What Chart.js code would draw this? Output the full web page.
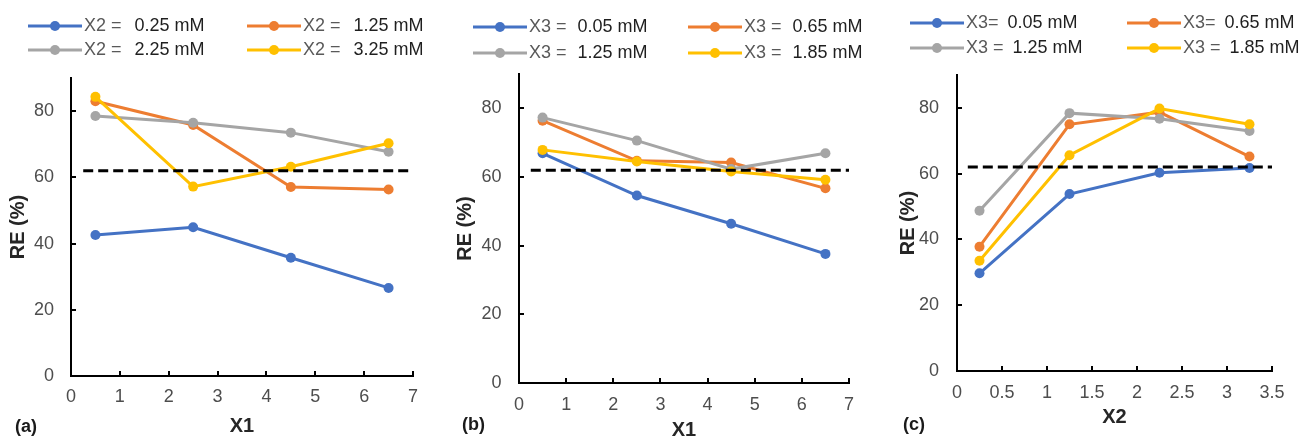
<!DOCTYPE html>
<html>
<head>
<meta charset="utf-8">
<script src="https://cdn.jsdelivr.net/npm/chart.js@4.4.1/dist/chart.umd.min.js"></script>
<style>
    html, body { margin: 0; padding: 0; background: #fff; }
    body { width: 1301px; height: 436px; position: relative; overflow: hidden; }
    canvas { position: absolute; top: 0; }
</style>
</head>
<body>
<canvas id="chartA" width="440" height="436" style="left:0"></canvas>
<canvas id="chartB" width="430" height="436" style="left:440px"></canvas>
<canvas id="chartC" width="431" height="436" style="left:870px"></canvas>
<script>
// ── (a) RE vs X1, one line per X2 ─────────────────────────────
const x1Vals = [0.5, 2.5, 4.5, 6.5];
const labelsA = ['X2 =  0.25 mM', 'X2 =  1.25 mM', 'X2 =  2.25 mM', 'X2 =  3.25 mM'];
const reA_x2_025 = [42.6, 44.9, 35.7, 26.6];
const reA_x2_125 = [83.0, 75.8, 57.1, 56.3];
const reA_x2_225 = [78.5, 76.5, 73.5, 67.7];
const reA_x2_325 = [84.3, 57.2, 63.2, 70.3];

// ── (b) RE vs X1, one line per X3 ─────────────────────────────
const labelsB = ['X3 =  0.05 mM', 'X3 =  0.65 mM', 'X3 =  1.25 mM', 'X3 =  1.85 mM'];
const reB_x3_005 = [66.9, 54.6, 46.4, 37.6];
const reB_x3_065 = [76.4, 64.7, 64.2, 56.7];
const reB_x3_125 = [77.3, 70.6, 62.3, 66.9];
const reB_x3_185 = [67.9, 64.5, 61.6, 59.2];

// ── (c) RE vs X2, one line per X3 ─────────────────────────────
const x2Vals = [0.25, 1.25, 2.25, 3.25];
const labelsC = ['X3= 0.05 mM', 'X3= 0.65 mM', 'X3 = 1.25 mM', 'X3 = 1.85 mM'];
const reC_x3_005 = [29.7, 53.8, 60.3, 61.7];
const reC_x3_065 = [37.8, 75.0, 78.7, 65.2];
const reC_x3_125 = [48.7, 78.4, 76.7, 73.0];
const reC_x3_185 = [33.5, 65.6, 79.8, 75.0];

// dashed reference level
const refRE = 62;
const refSpanX1 = [0.25, 7];
const refSpanX2 = [0.12, 3.5];

const yTicks = [0, 20, 40, 60, 80];

const COLORS = ['#4472C4', '#ED7D31', '#A5A5A5', '#FFC000'];
const tickFont = { family: "'Liberation Sans Narrow', 'Liberation Sans', Arial, sans-serif", size: 18 };
const titleFont = { family: "'Liberation Sans', Arial, sans-serif", size: 20, weight: 'bold', lineHeight: 1 };

// legend (2x2) + panel tag, drawn on the canvas
const panelDecor = {
    id: 'panelDecor',
    afterDraw(chart, args, o) {
        const ctx = chart.ctx;
        ctx.save();
        ctx.textBaseline = 'middle';
        chart.data.datasets.slice(0, 4).forEach((ds, i) => {
            const col = o.cols[i % 2], y = o.rows[Math.floor(i / 2)];
            ctx.strokeStyle = ds.borderColor;
            ctx.lineWidth = 3;
            ctx.beginPath();
            ctx.moveTo(col, y);
            ctx.lineTo(col + 54, y);
            ctx.stroke();
            ctx.fillStyle = ds.borderColor;
            ctx.beginPath();
            ctx.arc(col + 27, y, 5, 0, Math.PI * 2);
            ctx.fill();

            const parts = ds.label.split('=');
            const prefix = parts[0] + '=';
            ctx.font = "18px 'Liberation Sans', Arial, sans-serif";
            ctx.textAlign = 'left';
            ctx.fillStyle = '#595959';
            ctx.fillText(prefix, col + 56, y);
            const w = ctx.measureText(prefix).width;
            ctx.fillStyle = '#1f1f1f';
            ctx.fillText(parts[1].trim(), col + 56 + w + o.gap, y);
        });
        ctx.font = "bold 18px 'Liberation Sans', Arial, sans-serif";
        ctx.fillStyle = '#1a1a1a';
        ctx.textAlign = 'left';
        ctx.fillText(o.tag.text, o.tag.x, o.tag.y);
        ctx.restore();
    }
};

function seriesSets(xs, labels, series, refSpan) {
    const sets = series.map((ys, i) => ({
        label: labels[i],
        data: xs.map((x, j) => ({ x: x, y: ys[j] })),
        borderColor: COLORS[i],
        backgroundColor: COLORS[i],
        borderWidth: 3,
        pointRadius: 5,
        pointHoverRadius: 5,
        pointBorderWidth: 0,
        tension: 0,
        order: -i
    }));
    sets.push({
        label: 'ref',
        data: refSpan.map(x => ({ x: x, y: refRE })),
        borderColor: '#000',
        borderWidth: 3,
        borderDash: [10, 5],
        pointRadius: 0,
        order: -10
    });
    return sets;
}

function makePanel(id, p) {
    return new Chart(document.getElementById(id), {
        type: 'line',
        data: { datasets: seriesSets(p.xs, p.labels, p.series, p.refSpan) },
        options: {
            responsive: false,
            animation: false,
            events: [],
            layout: { padding: { top: p.top, right: p.right, left: 0, bottom: 0 } },
            scales: {
                x: {
                    type: 'linear', min: 0, max: p.xMax,
                    afterFit: s => { s.height = p.xHeight; },
                    ticks: { stepSize: p.xStep, padding: p.xPad, color: '#4d4d4d', font: tickFont, maxRotation: 0, callback: v => String(v) },
                    grid: { drawOnChartArea: false, drawTicks: true, tickLength: -5, color: '#000', lineWidth: 2 },
                    border: { display: true, color: '#000', width: 2 },
                    title: { display: true, text: p.xTitle, color: '#262626', font: titleFont, padding: { top: 0, bottom: p.xTitlePad } }
                },
                y: {
                    type: 'linear', min: 0, max: 90,
                    afterFit: s => { s.width = p.yWidth; },
                    afterBuildTicks: s => { s.ticks = s.ticks.filter(t => yTicks.includes(t.value)); },
                    ticks: { stepSize: 20, padding: p.yPad, color: '#4d4d4d', font: tickFont },
                    grid: { drawOnChartArea: false, drawTicks: true, tickLength: -5, color: '#000', lineWidth: 2 },
                    border: { display: true, color: '#000', width: 2 },
                    title: { display: true, text: 'RE (%)', color: '#262626', font: titleFont, padding: { top: p.yTitlePad, bottom: 0 } }
                }
            },
            plugins: {
                legend: { display: false },
                tooltip: { enabled: false },
                panelDecor: p.decor
            }
        },
        plugins: [panelDecor]
    });
}

makePanel('chartA', {
    xs: x1Vals, labels: labelsA,
    series: [reA_x2_025, reA_x2_125, reA_x2_225, reA_x2_325],
    refSpan: refSpanX1, xMax: 7, xStep: 1, xTitle: 'X1',
    top: 78, right: 27, yWidth: 71, xHeight: 60,
    yPad: 22, xPad: 15.5, yTitlePad: 8, xTitlePad: 0,
    decor: { cols: [28, 247], rows: [26, 50], gap: 13, tag: { text: '(a)', x: 15, y: 427 } }
});

makePanel('chartB', {
    xs: x1Vals, labels: labelsB,
    series: [reB_x3_005, reB_x3_065, reB_x3_125, reB_x3_185],
    refSpan: refSpanX1, xMax: 7, xStep: 1, xTitle: 'X1',
    top: 74, right: 14, yWidth: 79, xHeight: 53,
    yPad: 22.5, xPad: 16, yTitlePad: 15, xTitlePad: -4,
    decor: { cols: [33, 248], rows: [27, 53], gap: 11, tag: { text: '(b)', x: 22, y: 425 } }
});

makePanel('chartC', {
    xs: x2Vals, labels: labelsC,
    series: [reC_x3_005, reC_x3_065, reC_x3_125, reC_x3_185],
    refSpan: refSpanX2, xMax: 3.5, xStep: 0.5, xTitle: 'X2',
    top: 75, right: 13, yWidth: 87, xHeight: 65,
    yPad: 23, xPad: 16.5, yTitlePad: 28, xTitlePad: 9,
    decor: { cols: [40, 257], rows: [23, 48], gap: 9, tag: { text: '(c)', x: 33, y: 425 } }
});
</script>
</body>
</html>
